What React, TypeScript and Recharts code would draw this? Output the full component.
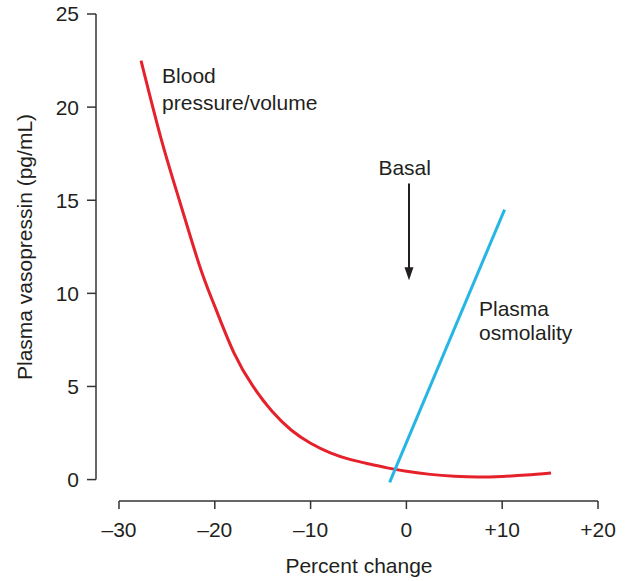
import React from "react";
import { LineChart, Line, XAxis, YAxis, ReferenceLine, ReferenceDot } from "recharts";

// red curve: vasopressin vs blood pressure/volume change
const bpX = [-27.7, -25.6, -23.7, -21.6, -20, -18, -16, -14, -12, -10, -8, -6, -4, -2, 0, 2.5, 5, 7.5, 10, 12.5, 15.1];
const bpY = [22.5, 18.3, 15.0, 11.5, 9.3, 6.8, 5.0, 3.65, 2.65, 1.95, 1.45, 1.1, 0.85, 0.63, 0.45, 0.28, 0.18, 0.14, 0.17, 0.24, 0.35];

// blue line: vasopressin vs plasma osmolality change
const osmX = [-1.75, 10.25];
const osmY = [-0.15, 14.5];

const xTicks = [-30, -20, -10, 0, 10, 20];
const yTicks = [0, 5, 10, 15, 20, 25];
const xTickLabels: Record<number, string> = { [-30]: "–30", [-20]: "–20", [-10]: "–10", 0: "0", 10: "+10", 20: "+20" };

const X_MIN = -32.4;
const Y_MIN = -1.15;

const bpData = bpX.map((x, i) => ({ x, y: bpY[i] }));
const osmData = osmX.map((x, i) => ({ x, y: osmY[i] }));

const FONT = "'Liberation Sans', Arial, sans-serif";
const INK = "#231f20";
const AXIS = "#333";
const TICK = { fontFamily: FONT, fontSize: 21, fill: INK };

const TwoLines = ({ cx, cy, lines, gap, anchor = "start" }: any) => (
  <text x={cx} y={cy} fontFamily={FONT} fontSize={21} fill={INK} textAnchor={anchor}>
    {lines.map((l: string, i: number) => (
      <tspan key={i} x={cx} dy={i === 0 ? 0 : gap}>
        {l}
      </tspan>
    ))}
  </text>
);

const ArrowHead = ({ cx, cy }: any) => (
  <path d={`M${cx - 4.5},${cy - 13} L${cx + 4.5},${cy - 13} L${cx},${cy} Z`} fill={INK} />
);

export default function App() {
  return (
    <div style={{ position: "absolute", left: 0, top: 0, width: 628, height: 581, background: "#fff" }}>
      <LineChart width={628} height={581} margin={{ top: 14, right: 30, bottom: 40, left: 0 }}>
        <XAxis
          type="number"
          dataKey="x"
          domain={[X_MIN, 20]}
          ticks={xTicks}
          allowDataOverflow
          axisLine={false}
          tickLine={{ stroke: AXIS, strokeWidth: 1.5 }}
          tickSize={8}
          tickMargin={13}
          height={40}
          tick={TICK}
          tickFormatter={(v: number) => xTickLabels[v] ?? String(v)}
          label={{
            content: () => (
              <text x={359} y={573} textAnchor="middle" fontFamily={FONT} fontSize={21} fill={INK}>
                Percent change
              </text>
            ),
          }}
        />
        <YAxis
          type="number"
          dataKey="y"
          domain={[Y_MIN, 25]}
          ticks={yTicks}
          allowDataOverflow
          axisLine={false}
          tickLine={{ stroke: AXIS, strokeWidth: 1.5 }}
          tickSize={9}
          tickMargin={8}
          width={96}
          tick={TICK}
          label={{
            content: () => (
              <text
                x={32}
                y={247}
                transform="rotate(-90 32 247)"
                textAnchor="middle"
                fontFamily={FONT}
                fontSize={21}
                fill={INK}
              >
                Plasma vasopressin (pg/mL)
              </text>
            ),
          }}
        />
        {/* offset axis lines */}
        <ReferenceLine segment={[{ x: -30, y: Y_MIN }, { x: 20, y: Y_MIN }]} stroke={AXIS} strokeWidth={1.5} ifOverflow="visible" />
        <ReferenceLine segment={[{ x: X_MIN, y: 0 }, { x: X_MIN, y: 25 }]} stroke={AXIS} strokeWidth={1.5} ifOverflow="visible" />

        <Line data={bpData} dataKey="y" type="natural" stroke="#e5212b" strokeWidth={3} dot={false} isAnimationActive={false} />
        <Line data={osmData} dataKey="y" type="linear" stroke="#27b5e6" strokeWidth={3} dot={false} isAnimationActive={false} />

        {/* Basal arrow */}
        <ReferenceLine segment={[{ x: 0.27, y: 15.9 }, { x: 0.27, y: 11.3 }]} stroke={INK} strokeWidth={2} ifOverflow="visible" />
        <ReferenceDot x={0.27} y={10.7} r={0} ifOverflow="visible" shape={(p: any) => <ArrowHead {...p} />} />

        <ReferenceDot x={-0.18} y={16.34} r={0} ifOverflow="visible" shape={(p: any) => <TwoLines {...p} lines={["Basal"]} anchor="middle" />} />
        <ReferenceDot x={-25.5} y={21.27} r={0} ifOverflow="visible" shape={(p: any) => <TwoLines {...p} lines={["Blood", "pressure/volume"]} gap={26.5} />} />
        <ReferenceDot x={7.58} y={8.79} r={0} ifOverflow="visible" shape={(p: any) => <TwoLines {...p} lines={["Plasma", "osmolality"]} gap={24.5} />} />
      </LineChart>
    </div>
  );
}
